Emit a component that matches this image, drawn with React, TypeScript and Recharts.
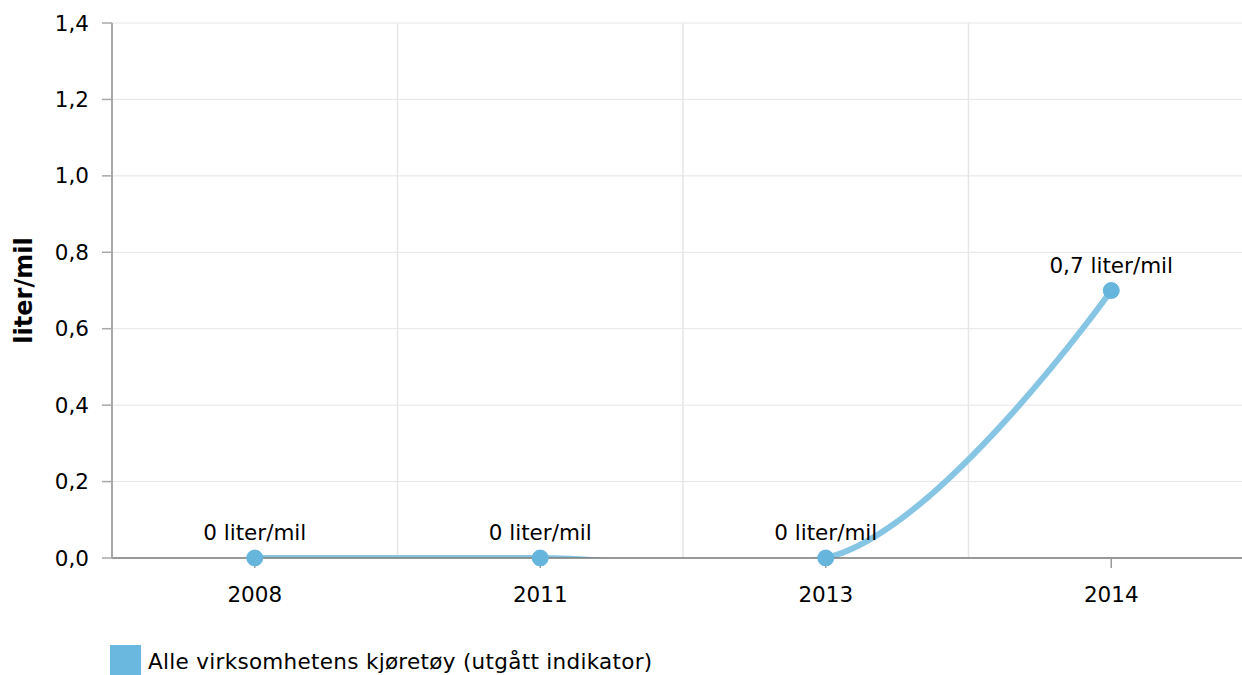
import React from 'react';
import {
  LineChart,
  Line,
  XAxis,
  YAxis,
  CartesianGrid,
  ReferenceLine,
  LabelList,
  Legend,
} from 'recharts';

const categories: string[] = ['2008', '2011', '2013', '2014'];
const values: number[] = [0, 0, 0, 0.7];
const yTicks: number[] = [0, 0.2, 0.4, 0.6, 0.8, 1.0, 1.2, 1.4];
const unit = 'liter/mil';
const seriesName = 'Alle virksomhetens kjøretøy (utgått indikator)';

const data = categories.map((year, i) => ({ year, value: values[i] }));

const FONT = "Verdana, 'DejaVu Sans', sans-serif";
const FS = 21.5;
const fmt = (v: number) => (v === 0 ? '0' : String(v).replace('.', ','));
const fmtTick = (v: number) => v.toFixed(1).replace('.', ',');

// Highcharts-like spline (smoothing 1.5, softened tangents) as a d3 curve factory
function splineCurve(context: any) {
  let xs: number[] = [];
  let ys: number[] = [];
  return {
    areaStart() {},
    areaEnd() {},
    lineStart() {
      xs = [];
      ys = [];
    },
    point(x: number, y: number) {
      xs.push(+x);
      ys.push(+y);
    },
    lineEnd() {
      const n = xs.length;
      if (!n) return;
      const sm = 1.5;
      const den = sm + 1;
      const tension = 0.5;
      const lc: number[][] = [];
      const rc: number[][] = [];
      for (let i = 0; i < n; i++) {
        const x = xs[i];
        const y = ys[i];
        if (i > 0 && i < n - 1) {
          const lx = xs[i - 1];
          const ly = ys[i - 1];
          const nx = xs[i + 1];
          const ny = ys[i + 1];
          const lcx = (sm * x + lx) / den;
          let lcy = (sm * y + ly) / den;
          const rcx = (sm * x + nx) / den;
          let rcy = (sm * y + ny) / den;
          if (rcx !== lcx) {
            const corr = ((rcy - lcy) * (rcx - x)) / (rcx - lcx) + y - rcy;
            lcy += corr;
            rcy += corr;
          }
          lcy = y + tension * (lcy - y);
          rcy = y + tension * (rcy - y);
          lc[i] = [lcx, lcy];
          rc[i] = [rcx, rcy];
        } else {
          lc[i] = [x, y];
          rc[i] = [x, y];
        }
      }
      context.moveTo(xs[0], ys[0]);
      for (let i = 1; i < n; i++) {
        context.bezierCurveTo(rc[i - 1][0], rc[i - 1][1], lc[i][0], lc[i][1], xs[i], ys[i]);
      }
    },
  };
}

const YTitle = (props: any) => {
  const vb = props.viewBox || { x: 0, y: 0, width: 0, height: 0 };
  const cx = vb.x + 32;
  const cy = vb.y + vb.height / 2;
  return (
    <text
      x={cx}
      y={cy}
      transform={`rotate(-90 ${cx} ${cy})`}
      textAnchor="middle"
      fontFamily={FONT}
      fontSize={24}
      fontWeight="bold"
      fill="#000"
    >
      {unit}
    </text>
  );
};

const PointLabel = (props: any) => {
  const { x, y, value } = props;
  return (
    <text x={x} y={y - 18} textAnchor="middle" fontFamily={FONT} fontSize={FS} fill="#000">
      {`${fmt(value)} ${unit}`}
    </text>
  );
};

const LegendContent = () => (
  <div
    style={{
      display: 'flex',
      alignItems: 'flex-start',
      paddingLeft: 110,
      fontFamily: FONT,
      fontSize: FS,
      color: '#000',
      height: 30,
    }}
  >
    <div style={{ width: 31, height: 31, background: '#6ab8df', flex: 'none' }} />
    <div style={{ marginLeft: 7, lineHeight: '31px', paddingTop: 1, whiteSpace: 'nowrap', letterSpacing: 0.3 }}>
      {seriesName}
    </div>
  </div>
);

export default function App() {
  return (
    <div
      style={{
        position: 'absolute',
        left: 0,
        top: 0,
        width: 1242,
        height: 675,
        overflow: 'hidden',
        background: '#fff',
      }}
    >
      <LineChart
        width={1254}
        height={675}
        data={data}
        margin={{ top: 23, right: 0, bottom: 0, left: 0 }}
        style={{ fontFamily: FONT }}
      >
        <CartesianGrid vertical={false} stroke="#e6e6e6" strokeWidth={1} />
        {categories.slice(1).map((c) => (
          <ReferenceLine key={c} x={c} position="start" stroke="#e6e6e6" strokeWidth={1.5} />
        ))}
        <XAxis
          dataKey="year"
          scale="band"
          height={87}
          tickSize={10}
          tickMargin={19}
          axisLine={{ stroke: '#7a7a7a', strokeWidth: 1.5 }}
          tickLine={{ stroke: '#9a9a9a', strokeWidth: 1.5 }}
          tick={{ fill: '#000', fontSize: FS, fontFamily: FONT }}
        />
        <YAxis
          type="number"
          width={112}
          domain={[0, 1.4]}
          ticks={yTicks}
          interval={0}
          allowDataOverflow
          tickFormatter={fmtTick}
          tickSize={10}
          tickMargin={13}
          axisLine={{ stroke: '#a8a8a8', strokeWidth: 2 }}
          tickLine={{ stroke: '#a8a8a8', strokeWidth: 1.5 }}
          tick={{ fill: '#000', fontSize: FS, fontFamily: FONT }}
          label={{ content: YTitle }}
        />
        <Legend verticalAlign="bottom" align="left" height={30} content={LegendContent} />
        <Line
          dataKey="value"
          name={seriesName}
          type={splineCurve as any}
          stroke="#86c5e3"
          strokeWidth={6}
          isAnimationActive={false}
          dot={{ r: 8, fill: '#66b5dc', stroke: '#66b5dc', strokeWidth: 1, clipDot: false } as any}
          activeDot={false}
        >
          <LabelList dataKey="value" content={PointLabel} />
        </Line>
      </LineChart>
    </div>
  );
}
